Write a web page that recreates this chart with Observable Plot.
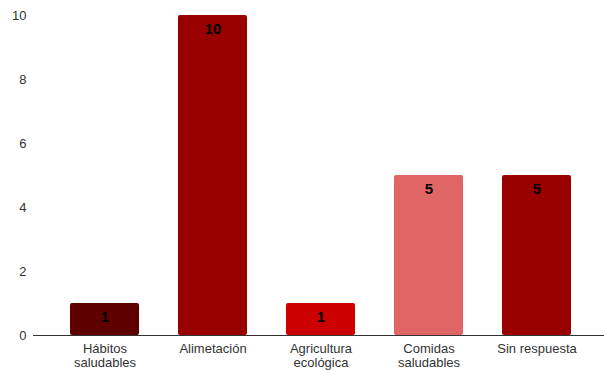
<!DOCTYPE html>
<html>
<head>
<meta charset="utf-8">
<script src="https://cdn.jsdelivr.net/npm/d3@7"></script>
<script src="https://cdn.jsdelivr.net/npm/@observablehq/plot@0.6"></script>
<style>
  html, body { margin: 0; padding: 0; background: #fff; }
  svg { display: block; }
  svg g[aria-label*="axis"], svg g[aria-label*="axis"] text { font-size: 13px !important; }
</style>
</head>
<body>
<div id="chart"></div>
<script>
const categories = ["Hábitos\nsaludables", "Alimetación", "Agricultura\necológica", "Comidas\nsaludables", "Sin respuesta"];
const values = [1, 10, 1, 5, 5];
const colors = ["#5f0000", "#990000", "#cc0000", "#e06666", "#990000"];
const yTicks = [0, 2, 4, 6, 8, 10];

const data = categories.map((c, i) => ({category: c, value: values[i], color: colors[i]}));

const chart = Plot.plot({
  width: 604,
  height: 370,
  marginLeft: 33,
  marginRight: 0,
  marginTop: 15,
  marginBottom: 35,
  style: {fontFamily: "'Liberation Sans', Arial, sans-serif", fontSize: "13px", color: "#333"},
  x: {domain: categories, range: [33, 608], round: false, paddingInner: 0.361, paddingOuter: 0.3426, label: null, tickSize: 0, tickPadding: 8},
  y: {domain: [0, 10], ticks: yTicks, label: null, tickSize: 0, tickPadding: 7},
  marks: [
    Plot.ruleY(yTicks.filter(d => d > 0), {x1: 33, x2: 604, stroke: "#cccccc", strokeWidth: 1}),
    Plot.barY(data, {x: "category", y: "value", fill: "color", rx: 2}),
    Plot.ruleY([0], {stroke: "#333333", strokeWidth: 1}),
    Plot.text(data, {x: "category", y: "value", text: d => String(d.value), dy: 14, fontWeight: "bold", fontSize: 15, fill: "#000"}),
    Plot.axisX({tickSize: 0, tickPadding: 8, fontSize: 13, fill: "#333", lineHeight: 1.05}),
    Plot.axisY({ticks: yTicks, tickSize: 0, tickPadding: 7, fontSize: 13, fill: "#333"})
  ]
});
document.getElementById("chart").appendChild(chart);
</script>
</body>
</html>
